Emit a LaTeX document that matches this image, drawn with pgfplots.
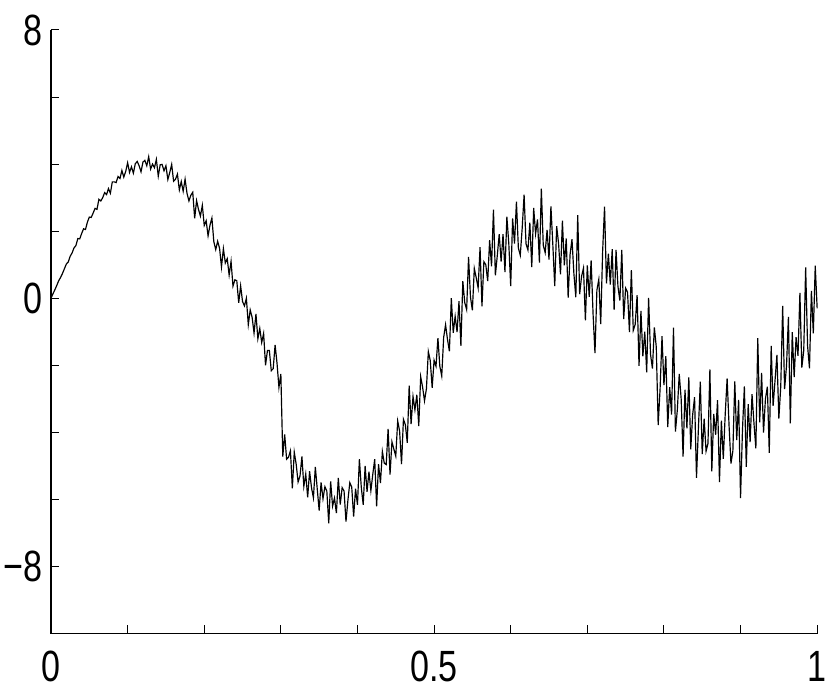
\documentclass[border=0pt]{standalone}
\usepackage{fontspec}
\setmainfont{Liberation Sans}
\newfontfamily\tickfont[FakeStretch=0.78]{Liberation Sans}
\usepackage{pgfplots}
\pgfplotsset{compat=1.18}
\begin{document}
\begin{tikzpicture}
\begin{axis}[
  width=227.7pt, height=179.4pt, scale only axis,
  xmin=0, xmax=1, ymin=-10, ymax=8,
  axis x line*=bottom, axis y line*=left,
  axis line style={-, line width=0.4pt, black},
  xtick={0,0.5,1}, xticklabels={0,0.5,1},
  ytick={-8,0,8}, yticklabels={−8,0,8},
  minor x tick num=4, minor y tick num=3,
  tick align=inside,
  major tick length=2.4pt, minor tick length=2.4pt,
  tick style={line width=0.3pt, black},
  tick label style={font=\tickfont\fontsize{13}{15}\selectfont},
  yticklabel style={inner xsep=1pt, inner ysep=4.3pt, xshift=-1.4pt},
  xticklabel style={inner xsep=1pt, inner ysep=2pt, yshift=-3pt},
  clip=false,
]
\addplot[black, line width=0.35pt, mark=none] coordinates {
(0,0) (0.0025,0.13) (0.005,0.25) (0.0075,0.38)
(0.01,0.52) (0.0125,0.62) (0.015,0.74) (0.0175,0.88)
(0.02,1.02) (0.0225,1.08) (0.025,1.25) (0.0275,1.35)
(0.03,1.50) (0.0325,1.57) (0.035,1.78) (0.0375,1.77)
(0.04,1.93) (0.0425,2.07) (0.045,2.05) (0.0475,2.27)
(0.05,2.42) (0.0525,2.41) (0.055,2.54) (0.0575,2.68)
(0.06,2.65) (0.0625,2.95) (0.065,2.90) (0.0675,3.00)
(0.07,3.15) (0.0725,3.09) (0.075,3.27) (0.0775,3.13)
(0.08,3.47) (0.0825,3.47) (0.085,3.45) (0.0875,3.63)
(0.09,3.57) (0.0925,3.81) (0.095,3.61) (0.0975,3.78)
(0.10,4.04) (0.1025,3.75) (0.105,3.92) (0.1075,3.73)
(0.11,4.01) (0.1125,4.08) (0.115,3.95) (0.1175,3.77)
(0.12,4.06) (0.1225,4.11) (0.125,3.95) (0.1275,4.22)
(0.13,3.85) (0.1325,4.00) (0.135,3.89) (0.1375,4.14)
(0.14,3.64) (0.1425,3.98) (0.145,3.99) (0.1475,3.80)
(0.15,3.95) (0.1525,3.54) (0.155,3.75) (0.1575,3.99)
(0.16,3.49) (0.1625,3.55) (0.165,3.70) (0.1675,3.23)
(0.17,3.48) (0.1725,3.19) (0.175,3.55) (0.1775,3.13)
(0.18,2.90) (0.1825,3.07) (0.185,3.16) (0.1875,2.38)
(0.19,2.91) (0.1925,2.65) (0.195,2.45) (0.1975,2.77)
(0.20,2.17) (0.2025,2.31) (0.205,1.86) (0.2075,2.18)
(0.21,2.39) (0.2125,1.69) (0.215,1.45) (0.2175,1.70)
(0.22,1.49) (0.2225,0.93) (0.225,1.48) (0.2275,1.05)
(0.23,1.18) (0.2325,0.69) (0.235,1.10) (0.2375,0.36)
(0.24,0.55) (0.2425,0.52) (0.245,-0.14) (0.2475,0.37)
(0.25,-0.10) (0.2525,-0.23) (0.255,0.00) (0.2575,-0.79)
(0.26,-0.35) (0.2625,-0.57) (0.265,-1.04) (0.2675,-0.47)
(0.27,-1.21) (0.2725,-0.90) (0.275,-1.32) (0.2775,-1.05)
(0.28,-2.00) (0.2825,-1.56) (0.285,-1.56) (0.2875,-2.16)
(0.29,-2.10) (0.2925,-1.39) (0.295,-1.94) (0.2975,-2.66)
(0.30,-2.26) (0.3025,-4.72) (0.305,-4.06) (0.3075,-4.80)
(0.31,-4.74) (0.3125,-4.55) (0.315,-5.67) (0.3175,-4.59)
(0.32,-4.95) (0.3225,-5.48) (0.325,-5.30) (0.3275,-4.72)
(0.33,-5.61) (0.3325,-5.24) (0.335,-5.94) (0.3375,-5.16)
(0.34,-5.65) (0.3425,-5.95) (0.345,-5.03) (0.3475,-5.69)
(0.35,-6.33) (0.3525,-5.49) (0.355,-5.98) (0.3575,-5.62)
(0.36,-5.75) (0.3625,-6.71) (0.365,-5.46) (0.3675,-6.20)
(0.37,-5.96) (0.3725,-6.41) (0.375,-5.36) (0.3775,-6.15)
(0.38,-5.65) (0.3825,-5.75) (0.385,-6.66) (0.3875,-6.03)
(0.39,-5.50) (0.3925,-5.63) (0.395,-6.51) (0.3975,-5.68)
(0.40,-6.16) (0.4025,-4.80) (0.405,-5.64) (0.4075,-6.16)
(0.41,-5.00) (0.4125,-5.77) (0.415,-5.17) (0.4175,-5.74)
(0.42,-5.25) (0.4225,-4.80) (0.425,-6.21) (0.4275,-4.95)
(0.43,-5.51) (0.4325,-4.57) (0.435,-4.92) (0.4375,-4.96)
(0.44,-3.90) (0.4425,-5.26) (0.445,-4.28) (0.4475,-4.50)
(0.45,-4.71) (0.4525,-3.66) (0.455,-3.96) (0.4575,-4.95)
(0.46,-3.61) (0.4625,-3.77) (0.465,-4.31) (0.4675,-2.61)
(0.47,-3.75) (0.4725,-2.93) (0.475,-3.33) (0.4775,-2.88)
(0.48,-3.81) (0.4825,-2.34) (0.485,-2.65) (0.4875,-3.06)
(0.49,-2.70) (0.4925,-1.59) (0.495,-1.86) (0.4975,-2.67)
(0.50,-1.85) (0.5025,-2.03) (0.505,-1.19) (0.5075,-2.03)
(0.51,-2.32) (0.5125,-1.17) (0.515,-0.79) (0.5175,-1.23)
(0.52,-1.58) (0.5225,0.00) (0.525,-1.03) (0.5275,-0.54)
(0.53,-1.01) (0.5325,-0.09) (0.535,-1.42) (0.5375,0.51)
(0.54,-0.13) (0.5425,-0.34) (0.545,1.23) (0.5475,0.03)
(0.55,-0.36) (0.5525,0.89) (0.555,0.61) (0.5575,0.31)
(0.56,1.52) (0.5625,-0.24) (0.565,1.09) (0.5675,1.00)
(0.57,0.51) (0.5725,1.73) (0.575,0.95) (0.5775,2.64)
(0.58,0.68) (0.5825,1.27) (0.585,1.91) (0.5875,1.09)
(0.59,1.91) (0.5925,0.78) (0.595,2.43) (0.5975,1.64)
(0.60,0.36) (0.6025,2.38) (0.605,1.63) (0.6075,2.88)
(0.61,1.50) (0.6125,1.28) (0.615,2.09) (0.6175,3.09)
(0.62,1.62) (0.6225,1.44) (0.625,2.25) (0.6275,0.93)
(0.63,2.69) (0.6325,1.92) (0.635,2.35) (0.6375,1.06)
(0.64,3.27) (0.6425,1.58) (0.645,1.36) (0.6475,2.04)
(0.65,1.15) (0.6525,2.74) (0.655,1.59) (0.6575,0.36)
(0.66,2.15) (0.6625,1.63) (0.665,0.71) (0.6675,2.31)
(0.67,0.98) (0.6725,1.78) (0.675,0.02) (0.6775,1.30)
(0.68,1.76) (0.6825,0.73) (0.685,0.03) (0.6875,2.48)
(0.69,0.12) (0.6925,0.65) (0.695,0.90) (0.6975,-0.66)
(0.70,0.98) (0.7025,0.04) (0.705,1.13) (0.7075,-0.46)
(0.71,-1.64) (0.7125,0.24) (0.715,0.56) (0.7175,-0.77)
(0.72,1.40) (0.7225,2.73) (0.725,0.44) (0.7275,1.33)
(0.73,0.41) (0.7325,1.46) (0.735,-0.35) (0.7375,1.44)
(0.74,0.35) (0.7425,-0.07) (0.745,1.44) (0.7475,-0.62)
(0.75,0.30) (0.7525,0.18) (0.755,-1.01) (0.7575,0.84)
(0.76,-0.96) (0.7625,-0.78) (0.765,0.09) (0.7675,-2.02)
(0.77,-0.38) (0.7725,-1.73) (0.775,-1.00) (0.7775,-2.21)
(0.78,0.01) (0.7825,-1.67) (0.785,-2.10) (0.7875,-0.87)
(0.79,-1.45) (0.7925,-3.78) (0.795,-2.70) (0.7975,-1.13)
(0.80,-2.59) (0.8025,-1.73) (0.805,-3.84) (0.8075,-2.65)
(0.81,-3.47) (0.8125,-0.88) (0.815,-3.98) (0.8175,-3.33)
(0.82,-2.26) (0.8225,-3.00) (0.825,-4.72) (0.8275,-2.73)
(0.83,-3.88) (0.8325,-2.36) (0.835,-4.51) (0.8375,-3.48)
(0.84,-2.95) (0.8425,-5.36) (0.845,-3.89) (0.8475,-2.49)
(0.85,-4.65) (0.8525,-3.59) (0.855,-4.56) (0.8575,-4.33)
(0.86,-2.12) (0.8625,-5.16) (0.865,-3.45) (0.8675,-4.07)
(0.87,-3.04) (0.8725,-5.48) (0.875,-3.65) (0.8775,-4.79)
(0.88,-3.46) (0.8825,-2.39) (0.885,-3.79) (0.8875,-4.93)
(0.89,-4.55) (0.8925,-2.48) (0.895,-4.23) (0.8975,-3.03)
(0.90,-5.96) (0.9025,-3.94) (0.905,-2.63) (0.9075,-5.03)
(0.91,-3.16) (0.9125,-4.29) (0.915,-2.86) (0.9175,-3.72)
(0.92,-4.48) (0.9225,-1.19) (0.925,-3.70) (0.9275,-2.23)
(0.93,-4.01) (0.9325,-3.00) (0.935,-2.64) (0.9375,-4.61)
(0.94,-1.42) (0.9425,-3.21) (0.945,-2.46) (0.9475,-1.69)
(0.95,-3.59) (0.9525,-2.63) (0.955,-0.23) (0.9575,-2.71)
(0.96,-2.02) (0.9625,-0.56) (0.965,-3.73) (0.9675,-1.01)
(0.97,-2.35) (0.9725,-1.16) (0.975,-1.72) (0.9775,0.16)
(0.98,-2.07) (0.9825,-1.56) (0.985,0.92) (0.9875,-1.42)
(0.99,-2.09) (0.9925,0.22) (0.995,-1.05) (0.9975,0.97)
(1,-0.30)
};
\end{axis}
\end{tikzpicture}
\end{document}
